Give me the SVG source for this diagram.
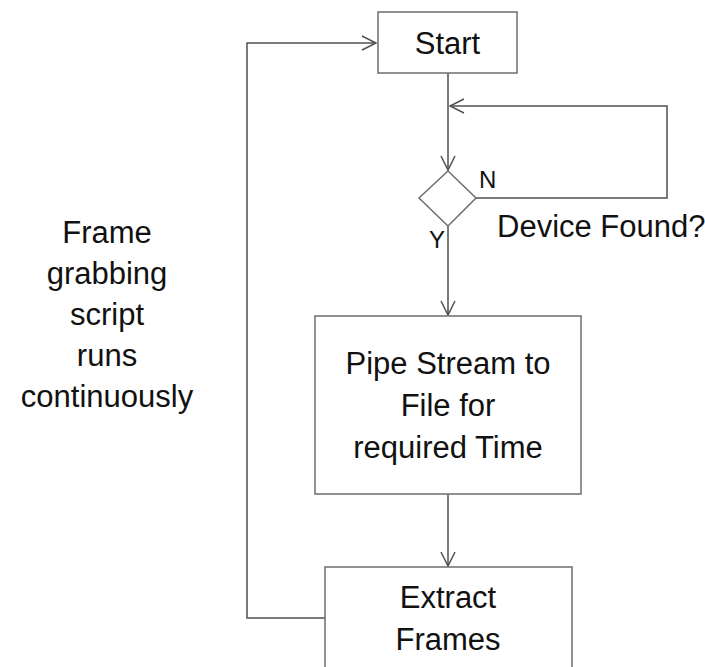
<svg xmlns="http://www.w3.org/2000/svg" width="705" height="667" viewBox="0 0 705 667">
<style>
.box{fill:#fff;stroke:#6e6e6e;stroke-width:1.5}
.ln{fill:none;stroke:#505050;stroke-width:1.5}
text{font-family:"Liberation Sans",Arial,sans-serif;fill:#111;font-size:31px}
.c{text-anchor:middle}
.s{font-size:24px}
</style>
<defs>
<marker id="arr" markerUnits="userSpaceOnUse" markerWidth="16" markerHeight="16" refX="14" refY="7" orient="auto" overflow="visible">
<path d="M0,0 L14,7 L0,14" fill="none" stroke="#505050" stroke-width="1.5"/>
</marker>
</defs>
<rect width="705" height="667" fill="#fff"/>
<g id="connectors">
<path class="ln" d="M325,618 H247 V43 H376" marker-end="url(#arr)"/>
<path class="ln" d="M448,73 V170" marker-end="url(#arr)"/>
<path class="ln" d="M476,198 H667 V106 H450" marker-end="url(#arr)"/>
<path class="ln" d="M448,226 V315" marker-end="url(#arr)"/>
<path class="ln" d="M448,494 V566" marker-end="url(#arr)"/>
</g>
<g id="start">
<rect class="box" x="378" y="12" width="139" height="61"/>
<text class="c" x="447.5" y="54">Start</text>
</g>
<g id="decision">
<polygon class="box" points="448,171 476,198 448,226 419,198"/>
<text class="s" x="479" y="188">N</text>
<text class="s" x="429" y="248">Y</text>
<text x="497" y="237">Device Found?</text>
</g>
<g id="pipe">
<rect class="box" x="315" y="316" width="266" height="178"/>
<text class="c" x="448" y="374">Pipe Stream to</text>
<text class="c" x="448" y="416">File for</text>
<text class="c" x="448" y="458">required Time</text>
</g>
<g id="extract">
<rect class="box" x="325" y="567" width="247" height="110"/>
<text class="c" x="448" y="608">Extract</text>
<text class="c" x="448" y="650">Frames</text>
</g>
<g id="note">
<text class="c" x="107" y="243">Frame</text>
<text class="c" x="107" y="284">grabbing</text>
<text class="c" x="107" y="325">script</text>
<text class="c" x="107" y="366">runs</text>
<text class="c" x="107" y="407">continuously</text>
</g>
</svg>
